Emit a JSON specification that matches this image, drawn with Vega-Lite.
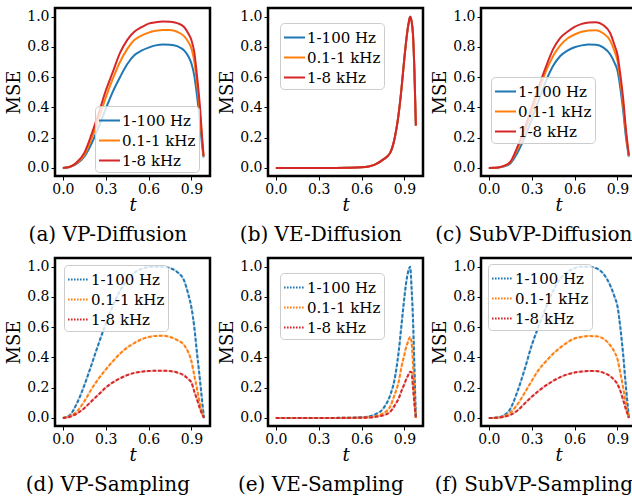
{
"$schema": "https://vega.github.io/schema/vega-lite/v6.json",
"padding": {"left": 4, "top": 6, "right": 0, "bottom": 0},
"datasets": {"d": [
{"p":"a","s":"1-100 Hz","t":0,"v":0},{"p":"a","s":"1-100 Hz","t":0.05,"v":0.007},{"p":"a","s":"1-100 Hz","t":0.1,"v":0.03},{"p":"a","s":"1-100 Hz","t":0.15,"v":0.075},{"p":"a","s":"1-100 Hz","t":0.2,"v":0.16},{"p":"a","s":"1-100 Hz","t":0.25,"v":0.27},{"p":"a","s":"1-100 Hz","t":0.3,"v":0.39},{"p":"a","s":"1-100 Hz","t":0.35,"v":0.505},{"p":"a","s":"1-100 Hz","t":0.4,"v":0.6},{"p":"a","s":"1-100 Hz","t":0.45,"v":0.685},{"p":"a","s":"1-100 Hz","t":0.5,"v":0.745},{"p":"a","s":"1-100 Hz","t":0.55,"v":0.775},{"p":"a","s":"1-100 Hz","t":0.6,"v":0.795},{"p":"a","s":"1-100 Hz","t":0.65,"v":0.81},{"p":"a","s":"1-100 Hz","t":0.7,"v":0.816},{"p":"a","s":"1-100 Hz","t":0.75,"v":0.815},{"p":"a","s":"1-100 Hz","t":0.8,"v":0.805},{"p":"a","s":"1-100 Hz","t":0.85,"v":0.775},{"p":"a","s":"1-100 Hz","t":0.88,"v":0.735},{"p":"a","s":"1-100 Hz","t":0.9,"v":0.69},{"p":"a","s":"1-100 Hz","t":0.92,"v":0.61},{"p":"a","s":"1-100 Hz","t":0.94,"v":0.47},{"p":"a","s":"1-100 Hz","t":0.96,"v":0.3},{"p":"a","s":"1-100 Hz","t":0.975,"v":0.15},{"p":"a","s":"1-100 Hz","t":0.985,"v":0.07},
{"p":"a","s":"0.1-1 kHz","t":0,"v":0},{"p":"a","s":"0.1-1 kHz","t":0.05,"v":0.008},{"p":"a","s":"0.1-1 kHz","t":0.1,"v":0.035},{"p":"a","s":"0.1-1 kHz","t":0.15,"v":0.085},{"p":"a","s":"0.1-1 kHz","t":0.2,"v":0.19},{"p":"a","s":"0.1-1 kHz","t":0.25,"v":0.32},{"p":"a","s":"0.1-1 kHz","t":0.3,"v":0.465},{"p":"a","s":"0.1-1 kHz","t":0.35,"v":0.59},{"p":"a","s":"0.1-1 kHz","t":0.4,"v":0.7},{"p":"a","s":"0.1-1 kHz","t":0.45,"v":0.785},{"p":"a","s":"0.1-1 kHz","t":0.5,"v":0.845},{"p":"a","s":"0.1-1 kHz","t":0.55,"v":0.875},{"p":"a","s":"0.1-1 kHz","t":0.6,"v":0.894},{"p":"a","s":"0.1-1 kHz","t":0.65,"v":0.906},{"p":"a","s":"0.1-1 kHz","t":0.7,"v":0.912},{"p":"a","s":"0.1-1 kHz","t":0.75,"v":0.911},{"p":"a","s":"0.1-1 kHz","t":0.8,"v":0.9},{"p":"a","s":"0.1-1 kHz","t":0.85,"v":0.87},{"p":"a","s":"0.1-1 kHz","t":0.88,"v":0.83},{"p":"a","s":"0.1-1 kHz","t":0.9,"v":0.79},{"p":"a","s":"0.1-1 kHz","t":0.92,"v":0.705},{"p":"a","s":"0.1-1 kHz","t":0.94,"v":0.55},{"p":"a","s":"0.1-1 kHz","t":0.96,"v":0.36},{"p":"a","s":"0.1-1 kHz","t":0.975,"v":0.18},{"p":"a","s":"0.1-1 kHz","t":0.985,"v":0.075},
{"p":"a","s":"1-8 kHz","t":0,"v":0},{"p":"a","s":"1-8 kHz","t":0.05,"v":0.009},{"p":"a","s":"1-8 kHz","t":0.1,"v":0.04},{"p":"a","s":"1-8 kHz","t":0.15,"v":0.1},{"p":"a","s":"1-8 kHz","t":0.2,"v":0.22},{"p":"a","s":"1-8 kHz","t":0.25,"v":0.36},{"p":"a","s":"1-8 kHz","t":0.3,"v":0.51},{"p":"a","s":"1-8 kHz","t":0.35,"v":0.635},{"p":"a","s":"1-8 kHz","t":0.4,"v":0.76},{"p":"a","s":"1-8 kHz","t":0.45,"v":0.845},{"p":"a","s":"1-8 kHz","t":0.5,"v":0.9},{"p":"a","s":"1-8 kHz","t":0.55,"v":0.93},{"p":"a","s":"1-8 kHz","t":0.6,"v":0.954},{"p":"a","s":"1-8 kHz","t":0.65,"v":0.963},{"p":"a","s":"1-8 kHz","t":0.7,"v":0.967},{"p":"a","s":"1-8 kHz","t":0.75,"v":0.966},{"p":"a","s":"1-8 kHz","t":0.8,"v":0.957},{"p":"a","s":"1-8 kHz","t":0.85,"v":0.93},{"p":"a","s":"1-8 kHz","t":0.88,"v":0.885},{"p":"a","s":"1-8 kHz","t":0.9,"v":0.845},{"p":"a","s":"1-8 kHz","t":0.92,"v":0.765},{"p":"a","s":"1-8 kHz","t":0.94,"v":0.6},{"p":"a","s":"1-8 kHz","t":0.96,"v":0.4},{"p":"a","s":"1-8 kHz","t":0.975,"v":0.2},{"p":"a","s":"1-8 kHz","t":0.985,"v":0.08},

{"p":"b","s":"1-100 Hz","t":0,"v":0},{"p":"b","s":"1-100 Hz","t":0.1,"v":0},{"p":"b","s":"1-100 Hz","t":0.2,"v":0},{"p":"b","s":"1-100 Hz","t":0.3,"v":0},{"p":"b","s":"1-100 Hz","t":0.4,"v":0.0005},{"p":"b","s":"1-100 Hz","t":0.5,"v":0.0015},{"p":"b","s":"1-100 Hz","t":0.6,"v":0.004},{"p":"b","s":"1-100 Hz","t":0.65,"v":0.01},{"p":"b","s":"1-100 Hz","t":0.7,"v":0.025},{"p":"b","s":"1-100 Hz","t":0.75,"v":0.055},{"p":"b","s":"1-100 Hz","t":0.8,"v":0.1},{"p":"b","s":"1-100 Hz","t":0.83,"v":0.19},{"p":"b","s":"1-100 Hz","t":0.86,"v":0.36},{"p":"b","s":"1-100 Hz","t":0.88,"v":0.53},{"p":"b","s":"1-100 Hz","t":0.9,"v":0.73},{"p":"b","s":"1-100 Hz","t":0.91,"v":0.82},{"p":"b","s":"1-100 Hz","t":0.92,"v":0.9},{"p":"b","s":"1-100 Hz","t":0.93,"v":0.96},{"p":"b","s":"1-100 Hz","t":0.94,"v":1.0},{"p":"b","s":"1-100 Hz","t":0.95,"v":0.97},{"p":"b","s":"1-100 Hz","t":0.96,"v":0.88},{"p":"b","s":"1-100 Hz","t":0.97,"v":0.64},{"p":"b","s":"1-100 Hz","t":0.98,"v":0.28},
{"p":"b","s":"0.1-1 kHz","t":0,"v":0},{"p":"b","s":"0.1-1 kHz","t":0.1,"v":0},{"p":"b","s":"0.1-1 kHz","t":0.2,"v":0},{"p":"b","s":"0.1-1 kHz","t":0.3,"v":0},{"p":"b","s":"0.1-1 kHz","t":0.4,"v":0.0005},{"p":"b","s":"0.1-1 kHz","t":0.5,"v":0.0015},{"p":"b","s":"0.1-1 kHz","t":0.6,"v":0.004},{"p":"b","s":"0.1-1 kHz","t":0.65,"v":0.01},{"p":"b","s":"0.1-1 kHz","t":0.7,"v":0.025},{"p":"b","s":"0.1-1 kHz","t":0.75,"v":0.055},{"p":"b","s":"0.1-1 kHz","t":0.8,"v":0.1},{"p":"b","s":"0.1-1 kHz","t":0.83,"v":0.19},{"p":"b","s":"0.1-1 kHz","t":0.86,"v":0.36},{"p":"b","s":"0.1-1 kHz","t":0.88,"v":0.53},{"p":"b","s":"0.1-1 kHz","t":0.9,"v":0.73},{"p":"b","s":"0.1-1 kHz","t":0.91,"v":0.82},{"p":"b","s":"0.1-1 kHz","t":0.92,"v":0.9},{"p":"b","s":"0.1-1 kHz","t":0.93,"v":0.96},{"p":"b","s":"0.1-1 kHz","t":0.94,"v":1.0},{"p":"b","s":"0.1-1 kHz","t":0.95,"v":0.97},{"p":"b","s":"0.1-1 kHz","t":0.96,"v":0.88},{"p":"b","s":"0.1-1 kHz","t":0.97,"v":0.64},{"p":"b","s":"0.1-1 kHz","t":0.98,"v":0.28},
{"p":"b","s":"1-8 kHz","t":0,"v":0},{"p":"b","s":"1-8 kHz","t":0.1,"v":0},{"p":"b","s":"1-8 kHz","t":0.2,"v":0},{"p":"b","s":"1-8 kHz","t":0.3,"v":0},{"p":"b","s":"1-8 kHz","t":0.4,"v":0.0005},{"p":"b","s":"1-8 kHz","t":0.5,"v":0.0015},{"p":"b","s":"1-8 kHz","t":0.6,"v":0.004},{"p":"b","s":"1-8 kHz","t":0.65,"v":0.01},{"p":"b","s":"1-8 kHz","t":0.7,"v":0.025},{"p":"b","s":"1-8 kHz","t":0.75,"v":0.055},{"p":"b","s":"1-8 kHz","t":0.8,"v":0.1},{"p":"b","s":"1-8 kHz","t":0.83,"v":0.19},{"p":"b","s":"1-8 kHz","t":0.86,"v":0.36},{"p":"b","s":"1-8 kHz","t":0.88,"v":0.53},{"p":"b","s":"1-8 kHz","t":0.9,"v":0.73},{"p":"b","s":"1-8 kHz","t":0.91,"v":0.82},{"p":"b","s":"1-8 kHz","t":0.92,"v":0.9},{"p":"b","s":"1-8 kHz","t":0.93,"v":0.96},{"p":"b","s":"1-8 kHz","t":0.94,"v":1.0},{"p":"b","s":"1-8 kHz","t":0.95,"v":0.97},{"p":"b","s":"1-8 kHz","t":0.96,"v":0.88},{"p":"b","s":"1-8 kHz","t":0.97,"v":0.64},{"p":"b","s":"1-8 kHz","t":0.98,"v":0.28},

{"p":"c","s":"1-100 Hz","t":0,"v":0},{"p":"c","s":"1-100 Hz","t":0.05,"v":0.001},{"p":"c","s":"1-100 Hz","t":0.1,"v":0.009},{"p":"c","s":"1-100 Hz","t":0.15,"v":0.03},{"p":"c","s":"1-100 Hz","t":0.2,"v":0.1},{"p":"c","s":"1-100 Hz","t":0.25,"v":0.2},{"p":"c","s":"1-100 Hz","t":0.3,"v":0.32},{"p":"c","s":"1-100 Hz","t":0.35,"v":0.45},{"p":"c","s":"1-100 Hz","t":0.4,"v":0.575},{"p":"c","s":"1-100 Hz","t":0.45,"v":0.675},{"p":"c","s":"1-100 Hz","t":0.5,"v":0.74},{"p":"c","s":"1-100 Hz","t":0.55,"v":0.775},{"p":"c","s":"1-100 Hz","t":0.6,"v":0.798},{"p":"c","s":"1-100 Hz","t":0.65,"v":0.81},{"p":"c","s":"1-100 Hz","t":0.7,"v":0.816},{"p":"c","s":"1-100 Hz","t":0.75,"v":0.815},{"p":"c","s":"1-100 Hz","t":0.8,"v":0.797},{"p":"c","s":"1-100 Hz","t":0.85,"v":0.75},{"p":"c","s":"1-100 Hz","t":0.88,"v":0.695},{"p":"c","s":"1-100 Hz","t":0.9,"v":0.645},{"p":"c","s":"1-100 Hz","t":0.92,"v":0.53},{"p":"c","s":"1-100 Hz","t":0.94,"v":0.38},{"p":"c","s":"1-100 Hz","t":0.96,"v":0.2},{"p":"c","s":"1-100 Hz","t":0.98,"v":0.075},
{"p":"c","s":"0.1-1 kHz","t":0,"v":0},{"p":"c","s":"0.1-1 kHz","t":0.05,"v":0.001},{"p":"c","s":"0.1-1 kHz","t":0.1,"v":0.011},{"p":"c","s":"0.1-1 kHz","t":0.15,"v":0.037},{"p":"c","s":"0.1-1 kHz","t":0.2,"v":0.125},{"p":"c","s":"0.1-1 kHz","t":0.25,"v":0.235},{"p":"c","s":"0.1-1 kHz","t":0.3,"v":0.37},{"p":"c","s":"0.1-1 kHz","t":0.35,"v":0.51},{"p":"c","s":"0.1-1 kHz","t":0.4,"v":0.64},{"p":"c","s":"0.1-1 kHz","t":0.45,"v":0.74},{"p":"c","s":"0.1-1 kHz","t":0.5,"v":0.81},{"p":"c","s":"0.1-1 kHz","t":0.55,"v":0.855},{"p":"c","s":"0.1-1 kHz","t":0.6,"v":0.882},{"p":"c","s":"0.1-1 kHz","t":0.65,"v":0.9},{"p":"c","s":"0.1-1 kHz","t":0.7,"v":0.909},{"p":"c","s":"0.1-1 kHz","t":0.75,"v":0.91},{"p":"c","s":"0.1-1 kHz","t":0.8,"v":0.89},{"p":"c","s":"0.1-1 kHz","t":0.85,"v":0.84},{"p":"c","s":"0.1-1 kHz","t":0.88,"v":0.77},{"p":"c","s":"0.1-1 kHz","t":0.9,"v":0.71},{"p":"c","s":"0.1-1 kHz","t":0.92,"v":0.58},{"p":"c","s":"0.1-1 kHz","t":0.94,"v":0.42},{"p":"c","s":"0.1-1 kHz","t":0.96,"v":0.23},{"p":"c","s":"0.1-1 kHz","t":0.98,"v":0.08},
{"p":"c","s":"1-8 kHz","t":0,"v":0},{"p":"c","s":"1-8 kHz","t":0.05,"v":0.001},{"p":"c","s":"1-8 kHz","t":0.1,"v":0.012},{"p":"c","s":"1-8 kHz","t":0.15,"v":0.04},{"p":"c","s":"1-8 kHz","t":0.2,"v":0.14},{"p":"c","s":"1-8 kHz","t":0.25,"v":0.26},{"p":"c","s":"1-8 kHz","t":0.3,"v":0.4},{"p":"c","s":"1-8 kHz","t":0.35,"v":0.54},{"p":"c","s":"1-8 kHz","t":0.4,"v":0.67},{"p":"c","s":"1-8 kHz","t":0.45,"v":0.785},{"p":"c","s":"1-8 kHz","t":0.5,"v":0.86},{"p":"c","s":"1-8 kHz","t":0.55,"v":0.9},{"p":"c","s":"1-8 kHz","t":0.6,"v":0.932},{"p":"c","s":"1-8 kHz","t":0.65,"v":0.952},{"p":"c","s":"1-8 kHz","t":0.7,"v":0.962},{"p":"c","s":"1-8 kHz","t":0.75,"v":0.963},{"p":"c","s":"1-8 kHz","t":0.8,"v":0.945},{"p":"c","s":"1-8 kHz","t":0.85,"v":0.89},{"p":"c","s":"1-8 kHz","t":0.88,"v":0.81},{"p":"c","s":"1-8 kHz","t":0.9,"v":0.75},{"p":"c","s":"1-8 kHz","t":0.92,"v":0.62},{"p":"c","s":"1-8 kHz","t":0.94,"v":0.46},{"p":"c","s":"1-8 kHz","t":0.96,"v":0.25},{"p":"c","s":"1-8 kHz","t":0.98,"v":0.084},

{"p":"d","s":"1-100 Hz","t":0,"v":0},{"p":"d","s":"1-100 Hz","t":0.05,"v":0.02},{"p":"d","s":"1-100 Hz","t":0.1,"v":0.1},{"p":"d","s":"1-100 Hz","t":0.15,"v":0.215},{"p":"d","s":"1-100 Hz","t":0.2,"v":0.35},{"p":"d","s":"1-100 Hz","t":0.25,"v":0.49},{"p":"d","s":"1-100 Hz","t":0.3,"v":0.62},{"p":"d","s":"1-100 Hz","t":0.35,"v":0.74},{"p":"d","s":"1-100 Hz","t":0.4,"v":0.84},{"p":"d","s":"1-100 Hz","t":0.45,"v":0.91},{"p":"d","s":"1-100 Hz","t":0.5,"v":0.96},{"p":"d","s":"1-100 Hz","t":0.55,"v":0.985},{"p":"d","s":"1-100 Hz","t":0.6,"v":0.997},{"p":"d","s":"1-100 Hz","t":0.65,"v":1.0},{"p":"d","s":"1-100 Hz","t":0.7,"v":1.0},{"p":"d","s":"1-100 Hz","t":0.75,"v":0.99},{"p":"d","s":"1-100 Hz","t":0.8,"v":0.965},{"p":"d","s":"1-100 Hz","t":0.85,"v":0.905},{"p":"d","s":"1-100 Hz","t":0.88,"v":0.81},{"p":"d","s":"1-100 Hz","t":0.9,"v":0.73},{"p":"d","s":"1-100 Hz","t":0.92,"v":0.6},{"p":"d","s":"1-100 Hz","t":0.94,"v":0.42},{"p":"d","s":"1-100 Hz","t":0.96,"v":0.25},{"p":"d","s":"1-100 Hz","t":0.975,"v":0.11},{"p":"d","s":"1-100 Hz","t":0.988,"v":0},
{"p":"d","s":"0.1-1 kHz","t":0,"v":0},{"p":"d","s":"0.1-1 kHz","t":0.05,"v":0.012},{"p":"d","s":"0.1-1 kHz","t":0.1,"v":0.045},{"p":"d","s":"0.1-1 kHz","t":0.15,"v":0.11},{"p":"d","s":"0.1-1 kHz","t":0.2,"v":0.19},{"p":"d","s":"0.1-1 kHz","t":0.25,"v":0.26},{"p":"d","s":"0.1-1 kHz","t":0.3,"v":0.32},{"p":"d","s":"0.1-1 kHz","t":0.35,"v":0.375},{"p":"d","s":"0.1-1 kHz","t":0.4,"v":0.425},{"p":"d","s":"0.1-1 kHz","t":0.45,"v":0.465},{"p":"d","s":"0.1-1 kHz","t":0.5,"v":0.495},{"p":"d","s":"0.1-1 kHz","t":0.55,"v":0.52},{"p":"d","s":"0.1-1 kHz","t":0.6,"v":0.535},{"p":"d","s":"0.1-1 kHz","t":0.65,"v":0.542},{"p":"d","s":"0.1-1 kHz","t":0.7,"v":0.543},{"p":"d","s":"0.1-1 kHz","t":0.75,"v":0.535},{"p":"d","s":"0.1-1 kHz","t":0.8,"v":0.515},{"p":"d","s":"0.1-1 kHz","t":0.85,"v":0.48},{"p":"d","s":"0.1-1 kHz","t":0.88,"v":0.43},{"p":"d","s":"0.1-1 kHz","t":0.9,"v":0.375},{"p":"d","s":"0.1-1 kHz","t":0.92,"v":0.28},{"p":"d","s":"0.1-1 kHz","t":0.94,"v":0.19},{"p":"d","s":"0.1-1 kHz","t":0.96,"v":0.09},{"p":"d","s":"0.1-1 kHz","t":0.975,"v":0.035},{"p":"d","s":"0.1-1 kHz","t":0.988,"v":0},
{"p":"d","s":"1-8 kHz","t":0,"v":0},{"p":"d","s":"1-8 kHz","t":0.05,"v":0.008},{"p":"d","s":"1-8 kHz","t":0.1,"v":0.03},{"p":"d","s":"1-8 kHz","t":0.15,"v":0.065},{"p":"d","s":"1-8 kHz","t":0.2,"v":0.11},{"p":"d","s":"1-8 kHz","t":0.25,"v":0.155},{"p":"d","s":"1-8 kHz","t":0.3,"v":0.2},{"p":"d","s":"1-8 kHz","t":0.35,"v":0.235},{"p":"d","s":"1-8 kHz","t":0.4,"v":0.262},{"p":"d","s":"1-8 kHz","t":0.45,"v":0.283},{"p":"d","s":"1-8 kHz","t":0.5,"v":0.298},{"p":"d","s":"1-8 kHz","t":0.55,"v":0.306},{"p":"d","s":"1-8 kHz","t":0.6,"v":0.31},{"p":"d","s":"1-8 kHz","t":0.65,"v":0.312},{"p":"d","s":"1-8 kHz","t":0.7,"v":0.312},{"p":"d","s":"1-8 kHz","t":0.75,"v":0.31},{"p":"d","s":"1-8 kHz","t":0.8,"v":0.3},{"p":"d","s":"1-8 kHz","t":0.85,"v":0.28},{"p":"d","s":"1-8 kHz","t":0.88,"v":0.255},{"p":"d","s":"1-8 kHz","t":0.9,"v":0.235},{"p":"d","s":"1-8 kHz","t":0.92,"v":0.175},{"p":"d","s":"1-8 kHz","t":0.94,"v":0.12},{"p":"d","s":"1-8 kHz","t":0.96,"v":0.06},{"p":"d","s":"1-8 kHz","t":0.975,"v":0.025},{"p":"d","s":"1-8 kHz","t":0.988,"v":0},

{"p":"e","s":"1-100 Hz","t":0,"v":0},{"p":"e","s":"1-100 Hz","t":0.1,"v":0},{"p":"e","s":"1-100 Hz","t":0.2,"v":0},{"p":"e","s":"1-100 Hz","t":0.3,"v":0},{"p":"e","s":"1-100 Hz","t":0.4,"v":0.0005},{"p":"e","s":"1-100 Hz","t":0.5,"v":0.0015},{"p":"e","s":"1-100 Hz","t":0.6,"v":0.004},{"p":"e","s":"1-100 Hz","t":0.65,"v":0.01},{"p":"e","s":"1-100 Hz","t":0.7,"v":0.026},{"p":"e","s":"1-100 Hz","t":0.75,"v":0.06},{"p":"e","s":"1-100 Hz","t":0.8,"v":0.15},{"p":"e","s":"1-100 Hz","t":0.83,"v":0.25},{"p":"e","s":"1-100 Hz","t":0.86,"v":0.44},{"p":"e","s":"1-100 Hz","t":0.88,"v":0.62},{"p":"e","s":"1-100 Hz","t":0.9,"v":0.8},{"p":"e","s":"1-100 Hz","t":0.91,"v":0.88},{"p":"e","s":"1-100 Hz","t":0.92,"v":0.94},{"p":"e","s":"1-100 Hz","t":0.93,"v":0.98},{"p":"e","s":"1-100 Hz","t":0.94,"v":1.0},{"p":"e","s":"1-100 Hz","t":0.95,"v":0.86},{"p":"e","s":"1-100 Hz","t":0.96,"v":0.65},{"p":"e","s":"1-100 Hz","t":0.97,"v":0.33},{"p":"e","s":"1-100 Hz","t":0.98,"v":0},
{"p":"e","s":"0.1-1 kHz","t":0,"v":0},{"p":"e","s":"0.1-1 kHz","t":0.1,"v":0},{"p":"e","s":"0.1-1 kHz","t":0.2,"v":0},{"p":"e","s":"0.1-1 kHz","t":0.3,"v":0},{"p":"e","s":"0.1-1 kHz","t":0.4,"v":0.0003},{"p":"e","s":"0.1-1 kHz","t":0.5,"v":0.001},{"p":"e","s":"0.1-1 kHz","t":0.6,"v":0.002},{"p":"e","s":"0.1-1 kHz","t":0.65,"v":0.005},{"p":"e","s":"0.1-1 kHz","t":0.7,"v":0.013},{"p":"e","s":"0.1-1 kHz","t":0.75,"v":0.03},{"p":"e","s":"0.1-1 kHz","t":0.8,"v":0.075},{"p":"e","s":"0.1-1 kHz","t":0.83,"v":0.15},{"p":"e","s":"0.1-1 kHz","t":0.86,"v":0.24},{"p":"e","s":"0.1-1 kHz","t":0.88,"v":0.34},{"p":"e","s":"0.1-1 kHz","t":0.9,"v":0.42},{"p":"e","s":"0.1-1 kHz","t":0.91,"v":0.46},{"p":"e","s":"0.1-1 kHz","t":0.92,"v":0.49},{"p":"e","s":"0.1-1 kHz","t":0.93,"v":0.52},{"p":"e","s":"0.1-1 kHz","t":0.94,"v":0.535},{"p":"e","s":"0.1-1 kHz","t":0.95,"v":0.5},{"p":"e","s":"0.1-1 kHz","t":0.96,"v":0.36},{"p":"e","s":"0.1-1 kHz","t":0.97,"v":0.18},{"p":"e","s":"0.1-1 kHz","t":0.98,"v":0},
{"p":"e","s":"1-8 kHz","t":0,"v":0},{"p":"e","s":"1-8 kHz","t":0.1,"v":0},{"p":"e","s":"1-8 kHz","t":0.2,"v":0},{"p":"e","s":"1-8 kHz","t":0.3,"v":0},{"p":"e","s":"1-8 kHz","t":0.4,"v":0.0002},{"p":"e","s":"1-8 kHz","t":0.5,"v":0.0005},{"p":"e","s":"1-8 kHz","t":0.6,"v":0.001},{"p":"e","s":"1-8 kHz","t":0.65,"v":0.003},{"p":"e","s":"1-8 kHz","t":0.7,"v":0.008},{"p":"e","s":"1-8 kHz","t":0.75,"v":0.017},{"p":"e","s":"1-8 kHz","t":0.8,"v":0.04},{"p":"e","s":"1-8 kHz","t":0.83,"v":0.08},{"p":"e","s":"1-8 kHz","t":0.86,"v":0.13},{"p":"e","s":"1-8 kHz","t":0.88,"v":0.18},{"p":"e","s":"1-8 kHz","t":0.9,"v":0.225},{"p":"e","s":"1-8 kHz","t":0.91,"v":0.25},{"p":"e","s":"1-8 kHz","t":0.92,"v":0.27},{"p":"e","s":"1-8 kHz","t":0.93,"v":0.29},{"p":"e","s":"1-8 kHz","t":0.94,"v":0.305},{"p":"e","s":"1-8 kHz","t":0.95,"v":0.3},{"p":"e","s":"1-8 kHz","t":0.96,"v":0.2},{"p":"e","s":"1-8 kHz","t":0.97,"v":0.09},{"p":"e","s":"1-8 kHz","t":0.98,"v":0},

{"p":"f","s":"1-100 Hz","t":0,"v":0},{"p":"f","s":"1-100 Hz","t":0.05,"v":0.002},{"p":"f","s":"1-100 Hz","t":0.1,"v":0.015},{"p":"f","s":"1-100 Hz","t":0.15,"v":0.06},{"p":"f","s":"1-100 Hz","t":0.2,"v":0.175},{"p":"f","s":"1-100 Hz","t":0.25,"v":0.32},{"p":"f","s":"1-100 Hz","t":0.3,"v":0.48},{"p":"f","s":"1-100 Hz","t":0.35,"v":0.61},{"p":"f","s":"1-100 Hz","t":0.4,"v":0.73},{"p":"f","s":"1-100 Hz","t":0.45,"v":0.84},{"p":"f","s":"1-100 Hz","t":0.5,"v":0.92},{"p":"f","s":"1-100 Hz","t":0.55,"v":0.965},{"p":"f","s":"1-100 Hz","t":0.6,"v":0.99},{"p":"f","s":"1-100 Hz","t":0.65,"v":1.0},{"p":"f","s":"1-100 Hz","t":0.7,"v":1.0},{"p":"f","s":"1-100 Hz","t":0.75,"v":0.99},{"p":"f","s":"1-100 Hz","t":0.8,"v":0.955},{"p":"f","s":"1-100 Hz","t":0.85,"v":0.875},{"p":"f","s":"1-100 Hz","t":0.88,"v":0.8},{"p":"f","s":"1-100 Hz","t":0.9,"v":0.74},{"p":"f","s":"1-100 Hz","t":0.92,"v":0.6},{"p":"f","s":"1-100 Hz","t":0.94,"v":0.42},{"p":"f","s":"1-100 Hz","t":0.96,"v":0.2},{"p":"f","s":"1-100 Hz","t":0.97,"v":0.1},{"p":"f","s":"1-100 Hz","t":0.98,"v":0},
{"p":"f","s":"0.1-1 kHz","t":0,"v":0},{"p":"f","s":"0.1-1 kHz","t":0.05,"v":0.001},{"p":"f","s":"0.1-1 kHz","t":0.1,"v":0.01},{"p":"f","s":"0.1-1 kHz","t":0.15,"v":0.035},{"p":"f","s":"0.1-1 kHz","t":0.2,"v":0.09},{"p":"f","s":"0.1-1 kHz","t":0.25,"v":0.165},{"p":"f","s":"0.1-1 kHz","t":0.3,"v":0.245},{"p":"f","s":"0.1-1 kHz","t":0.35,"v":0.32},{"p":"f","s":"0.1-1 kHz","t":0.4,"v":0.375},{"p":"f","s":"0.1-1 kHz","t":0.45,"v":0.425},{"p":"f","s":"0.1-1 kHz","t":0.5,"v":0.465},{"p":"f","s":"0.1-1 kHz","t":0.55,"v":0.5},{"p":"f","s":"0.1-1 kHz","t":0.6,"v":0.525},{"p":"f","s":"0.1-1 kHz","t":0.65,"v":0.536},{"p":"f","s":"0.1-1 kHz","t":0.7,"v":0.541},{"p":"f","s":"0.1-1 kHz","t":0.75,"v":0.54},{"p":"f","s":"0.1-1 kHz","t":0.8,"v":0.525},{"p":"f","s":"0.1-1 kHz","t":0.85,"v":0.48},{"p":"f","s":"0.1-1 kHz","t":0.88,"v":0.435},{"p":"f","s":"0.1-1 kHz","t":0.9,"v":0.39},{"p":"f","s":"0.1-1 kHz","t":0.92,"v":0.3},{"p":"f","s":"0.1-1 kHz","t":0.94,"v":0.2},{"p":"f","s":"0.1-1 kHz","t":0.96,"v":0.095},{"p":"f","s":"0.1-1 kHz","t":0.97,"v":0.045},{"p":"f","s":"0.1-1 kHz","t":0.98,"v":0},
{"p":"f","s":"1-8 kHz","t":0,"v":0},{"p":"f","s":"1-8 kHz","t":0.05,"v":0.001},{"p":"f","s":"1-8 kHz","t":0.1,"v":0.007},{"p":"f","s":"1-8 kHz","t":0.15,"v":0.02},{"p":"f","s":"1-8 kHz","t":0.2,"v":0.05},{"p":"f","s":"1-8 kHz","t":0.25,"v":0.095},{"p":"f","s":"1-8 kHz","t":0.3,"v":0.14},{"p":"f","s":"1-8 kHz","t":0.35,"v":0.18},{"p":"f","s":"1-8 kHz","t":0.4,"v":0.215},{"p":"f","s":"1-8 kHz","t":0.45,"v":0.245},{"p":"f","s":"1-8 kHz","t":0.5,"v":0.27},{"p":"f","s":"1-8 kHz","t":0.55,"v":0.288},{"p":"f","s":"1-8 kHz","t":0.6,"v":0.3},{"p":"f","s":"1-8 kHz","t":0.65,"v":0.307},{"p":"f","s":"1-8 kHz","t":0.7,"v":0.31},{"p":"f","s":"1-8 kHz","t":0.75,"v":0.31},{"p":"f","s":"1-8 kHz","t":0.8,"v":0.3},{"p":"f","s":"1-8 kHz","t":0.85,"v":0.276},{"p":"f","s":"1-8 kHz","t":0.88,"v":0.25},{"p":"f","s":"1-8 kHz","t":0.9,"v":0.224},{"p":"f","s":"1-8 kHz","t":0.92,"v":0.18},{"p":"f","s":"1-8 kHz","t":0.94,"v":0.12},{"p":"f","s":"1-8 kHz","t":0.96,"v":0.055},{"p":"f","s":"1-8 kHz","t":0.97,"v":0.028},{"p":"f","s":"1-8 kHz","t":0.98,"v":0}
]},
"data": {"name": "d"},
"columns": 3,
"spacing": {"row": 82, "column": 58},
"bounds": "flush",
"resolve": {"scale": {"color": "independent"}, "legend": {"color": "independent"}},
"concat": [
{"width":155,"height":168,"title":{"text":"(a) VP-Diffusion"},"transform":[{"filter":"datum.p==='a'"}],
 "mark":{"type":"line","strokeWidth":2,"interpolate":"monotone"},
 "encoding":{
  "x":{"field":"t","type":"quantitative","scale":{"domain":[-0.055,1.03],"nice":false,"zero":false},"axis":{"values":[0,0.3,0.6,0.9],"format":".1f","title":"t"}},
  "y":{"field":"v","type":"quantitative","scale":{"domain":[-0.053,1.057],"nice":false,"zero":false},"axis":{"values":[0,0.2,0.4,0.6,0.8,1],"format":".1f","title":"MSE"}},
  "color":{"field":"s","type":"nominal","scale":{"domain":["1-100 Hz","0.1-1 kHz","1-8 kHz"],"range":["#1f77b4","#ff7f0e","#d62728"]},"legend":{"title":null,"orient":"none","legendX":40,"legendY":98}}}},
{"width":155,"height":168,"title":{"text":"(b) VE-Diffusion"},"transform":[{"filter":"datum.p==='b'"}],
 "mark":{"type":"line","strokeWidth":2,"interpolate":"monotone"},
 "encoding":{
  "x":{"field":"t","type":"quantitative","scale":{"domain":[-0.055,1.03],"nice":false,"zero":false},"axis":{"values":[0,0.3,0.6,0.9],"format":".1f","title":"t"}},
  "y":{"field":"v","type":"quantitative","scale":{"domain":[-0.053,1.057],"nice":false,"zero":false},"axis":{"values":[0,0.2,0.4,0.6,0.8,1],"format":".1f","title":"MSE"}},
  "color":{"field":"s","type":"nominal","scale":{"domain":["1-100 Hz","0.1-1 kHz","1-8 kHz"],"range":["#1f77b4","#ff7f0e","#d62728"]},"legend":{"title":null,"orient":"none","legendX":12,"legendY":15}}}},
{"width":155,"height":168,"title":{"text":"(c) SubVP-Diffusion"},"transform":[{"filter":"datum.p==='c'"}],
 "mark":{"type":"line","strokeWidth":2,"interpolate":"monotone"},
 "encoding":{
  "x":{"field":"t","type":"quantitative","scale":{"domain":[-0.055,1.03],"nice":false,"zero":false},"axis":{"values":[0,0.3,0.6,0.9],"format":".1f","title":"t"}},
  "y":{"field":"v","type":"quantitative","scale":{"domain":[-0.053,1.057],"nice":false,"zero":false},"axis":{"values":[0,0.2,0.4,0.6,0.8,1],"format":".1f","title":"MSE"}},
  "color":{"field":"s","type":"nominal","scale":{"domain":["1-100 Hz","0.1-1 kHz","1-8 kHz"],"range":["#1f77b4","#ff7f0e","#d62728"]},"legend":{"title":null,"orient":"none","legendX":10,"legendY":69}}}},
{"width":155,"height":168,"title":{"text":"(d) VP-Sampling"},"transform":[{"filter":"datum.p==='d'"}],
 "encoding":{
  "x":{"field":"t","type":"quantitative","scale":{"domain":[-0.055,1.03],"nice":false,"zero":false},"axis":{"values":[0,0.3,0.6,0.9],"format":".1f","title":"t"}},
  "y":{"field":"v","type":"quantitative","scale":{"domain":[-0.053,1.057],"nice":false,"zero":false},"axis":{"values":[0,0.2,0.4,0.6,0.8,1],"format":".1f","title":"MSE"}},
  "color":{"field":"s","type":"nominal","scale":{"domain":["1-100 Hz","0.1-1 kHz","1-8 kHz"],"range":["#1f77b4","#ff7f0e","#d62728"]},"legend":{"title":null,"orient":"none","legendX":9,"legendY":7,"symbolDash":[1.6,1.4]}}},
 "layer":[
  {"mark":{"type":"line","strokeWidth":2,"opacity":0.3,"interpolate":"monotone"}},
  {"mark":{"type":"line","strokeWidth":2,"strokeDash":[3.5,2],"interpolate":"monotone"}}]},
{"width":155,"height":168,"title":{"text":"(e) VE-Sampling"},"transform":[{"filter":"datum.p==='e'"}],
 "encoding":{
  "x":{"field":"t","type":"quantitative","scale":{"domain":[-0.055,1.03],"nice":false,"zero":false},"axis":{"values":[0,0.3,0.6,0.9],"format":".1f","title":"t"}},
  "y":{"field":"v","type":"quantitative","scale":{"domain":[-0.053,1.057],"nice":false,"zero":false},"axis":{"values":[0,0.2,0.4,0.6,0.8,1],"format":".1f","title":"MSE"}},
  "color":{"field":"s","type":"nominal","scale":{"domain":["1-100 Hz","0.1-1 kHz","1-8 kHz"],"range":["#1f77b4","#ff7f0e","#d62728"]},"legend":{"title":null,"orient":"none","legendX":12,"legendY":15,"symbolDash":[1.6,1.4]}}},
 "layer":[
  {"mark":{"type":"line","strokeWidth":2,"opacity":0.3,"interpolate":"monotone"}},
  {"mark":{"type":"line","strokeWidth":2,"strokeDash":[3.5,2],"interpolate":"monotone"}}]},
{"width":155,"height":168,"title":{"text":"(f) SubVP-Sampling"},"transform":[{"filter":"datum.p==='f'"}],
 "encoding":{
  "x":{"field":"t","type":"quantitative","scale":{"domain":[-0.055,1.03],"nice":false,"zero":false},"axis":{"values":[0,0.3,0.6,0.9],"format":".1f","title":"t"}},
  "y":{"field":"v","type":"quantitative","scale":{"domain":[-0.053,1.057],"nice":false,"zero":false},"axis":{"values":[0,0.2,0.4,0.6,0.8,1],"format":".1f","title":"MSE"}},
  "color":{"field":"s","type":"nominal","scale":{"domain":["1-100 Hz","0.1-1 kHz","1-8 kHz"],"range":["#1f77b4","#ff7f0e","#d62728"]},"legend":{"title":null,"orient":"none","legendX":7,"legendY":6,"symbolDash":[1.6,1.4]}}},
 "layer":[
  {"mark":{"type":"line","strokeWidth":2,"opacity":0.3,"interpolate":"monotone"}},
  {"mark":{"type":"line","strokeWidth":2,"strokeDash":[3.5,2],"interpolate":"monotone"}}]}
],
"config": {
 "font": "DejaVu Serif",
 "background": "white",
 "view": {"stroke": "black", "strokeWidth": 2.5},
 "title": {"orient": "bottom", "frame": "bounds", "anchor": "middle", "font": "DejaVu Serif", "fontSize": 20, "fontWeight": "normal", "color": "black", "offset": 11},
 "axis": {"domain": false, "grid": false, "ticks": true, "tickColor": "black", "tickSize": 4, "tickWidth": 1, "labelFont": "DejaVu Serif", "labelFontSize": 14, "labelColor": "black", "labelPadding": 2, "titleFont": "DejaVu Serif", "titleFontSize": 18, "titleFontWeight": "normal", "titleColor": "black"},
 "axisX": {"titleFontStyle": "italic", "titlePadding": 0},
 "axisY": {"titlePadding": 3},
 "legend": {"labelFont": "DejaVu Serif", "labelFontSize": 15, "labelColor": "black", "symbolType": "stroke", "symbolSize": 441, "symbolStrokeWidth": 2, "symbolOpacity": 1, "fillColor": "rgba(255,255,255,0.8)", "strokeColor": "#cccccc", "cornerRadius": 4, "padding": 3, "rowPadding": -1, "labelOffset": 1}
}
}
